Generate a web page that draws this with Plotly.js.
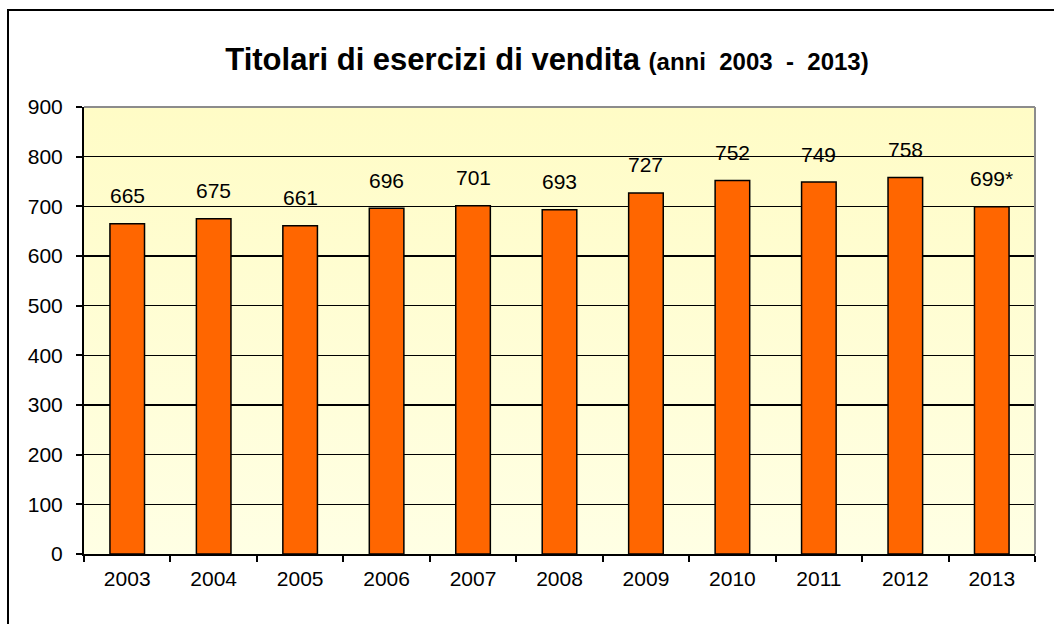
<!DOCTYPE html>
<html>
<head>
<meta charset="utf-8">
<script src="https://cdn.plot.ly/plotly-3.0.1.min.js"></script>
<style>
  html, body { margin: 0; padding: 0; background: #ffffff; }
  #chart { width: 1054px; height: 624px; }
</style>
</head>
<body>
<div id="chart"></div>
<script>
const years = ["2003", "2004", "2005", "2006", "2007", "2008", "2009", "2010", "2011", "2012", "2013"];
const values = [665, 675, 661, 696, 701, 693, 727, 752, 749, 758, 699];
const notes = ["", "", "", "", "", "", "", "", "", "", "*"];
const yTicks = [0, 100, 200, 300, 400, 500, 600, 700, 800, 900];

const labels = values.map((v, i) => String(v) + notes[i]);

const W = 1054, H = 624;
const L = 84, R = 19, T = 107, B = 70;
const pw = W - L - R, ph = H - T - B;
const px = x => (x - L) / pw;
const py = y => (H - B - y) / ph;

const FONT = 'Liberation Sans, Arial, sans-serif';

const grad = 'data:image/svg+xml;charset=utf-8,' + encodeURIComponent(
  '<svg xmlns="http://www.w3.org/2000/svg" width="100" height="100" preserveAspectRatio="none">' +
  '<defs><linearGradient id="g" x1="0" y1="0" x2="0" y2="1">' +
  '<stop offset="0" stop-color="#FFFCC6"/><stop offset="1" stop-color="#FFFFE4"/>' +
  '</linearGradient></defs><rect width="100" height="100" fill="url(#g)"/></svg>');

const trace = {
  type: 'bar',
  x: years,
  y: values,
  marker: { color: '#FF6600', line: { color: '#000000', width: 1.5 } },
  width: 0.4,
  hoverinfo: 'x+y'
};

// category axis: annotation x given as the category position (index)
const labelAnnotations = years.map((yr, i) => ({
  x: i, y: values[i], xref: 'x', yref: 'y',
  text: labels[i], showarrow: false,
  xanchor: 'center', yanchor: 'middle', yshift: 28,
  font: { family: FONT, size: 21, color: '#000000' }
}));

const layout = {
  width: W, height: H,
  margin: { l: L, r: R, t: T, b: B, pad: 0 },
  paper_bgcolor: '#ffffff',
  plot_bgcolor: 'rgba(0,0,0,0)',
  font: { family: FONT, size: 21, color: '#000000' },
  showlegend: false,
  title: {
    text: '<b>Titolari di esercizi di vendita</b> <b><span style="font-size:24px">(anni&nbsp; 2003&nbsp; -&nbsp; 2013)</span></b>',
    font: { family: FONT, size: 31, color: '#000000' },
    x: 547 / W, xref: 'container', xanchor: 'center',
    y: 1 - 59 / H, yref: 'container', yanchor: 'middle'
  },
  xaxis: {
    type: 'category',
    categoryorder: 'array', categoryarray: years,
    range: [-0.5, years.length - 0.5],
    showline: true, linecolor: '#000000', linewidth: 2,
    ticks: 'outside', tickson: 'boundaries', ticklen: 6, tickcolor: '#000000', tickwidth: 2,
    ticklabelstandoff: 5,
    showgrid: false, zeroline: false,
    tickfont: { size: 21 }
  },
  yaxis: {
    range: [0, 900],
    tickvals: yTicks,
    showline: true, linecolor: '#000000', linewidth: 2,
    ticks: 'outside', ticklen: 6, tickcolor: '#000000', tickwidth: 2,
    ticklabelstandoff: 9,
    showgrid: true, gridcolor: '#000000', gridwidth: 1.2,
    zeroline: false,
    tickfont: { size: 21 }
  },
  annotations: labelAnnotations,
  images: [{
    source: grad, xref: 'paper', yref: 'paper', x: 0, y: 1, sizex: 1, sizey: 1,
    sizing: 'stretch', layer: 'below', xanchor: 'left', yanchor: 'top'
  }],
  shapes: [
    { type: 'line', xref: 'paper', yref: 'paper', x0: 0, x1: 1, y0: 1, y1: 1, line: { color: '#8C8C8C', width: 2 } },
    { type: 'line', xref: 'paper', yref: 'paper', x0: 1, x1: 1, y0: 0, y1: 1, line: { color: '#8C8C8C', width: 2 } },
    { type: 'line', xref: 'paper', yref: 'paper', x0: px(8), x1: px(8), y0: py(10), y1: py(640), line: { color: '#000000', width: 2 } },
    { type: 'line', xref: 'paper', yref: 'paper', x0: px(7), x1: px(1070), y0: py(10), y1: py(10), line: { color: '#000000', width: 2 } }
  ]
};

Plotly.newPlot('chart', [trace], layout, { displayModeBar: false, staticPlot: true });
</script>
</body>
</html>
